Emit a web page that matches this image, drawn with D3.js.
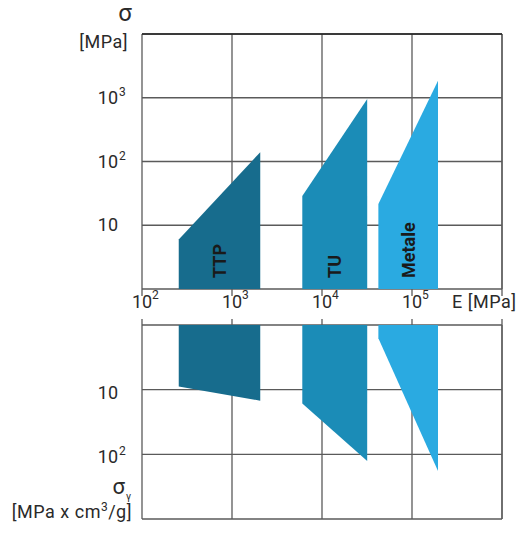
<!DOCTYPE html>
<html>
<head>
<meta charset="utf-8">
<script src="https://cdn.jsdelivr.net/npm/d3@7"></script>
<style>
  html, body { margin: 0; padding: 0; background: #fff; }
  svg { display: block; font-family: Roboto, "Noto Sans", sans-serif; }
</style>
</head>
<body>
<svg id="chart" width="520" height="533"></svg>
<script>
// ---- data ----
const materials = ["TTP", "TU", "Metale"];
const colors = ["#176c8d", "#1b8cb7", "#2aaae1"];
const eMin = [256, 6040, 42300];          // E [MPa], left edge
const eMax = [2060, 31800, 194500];       // E [MPa], right edge
const sigmaLeft = [6, 28.8, 21.6];        // σ at eMin [MPa]
const sigmaRight = [140, 960, 1840];      // σ at eMax [MPa]
const sigmaYLeft = [8.9, 16.4, 1.6];      // σγ at eMin
const sigmaYRight = [14.8, 127, 181];     // σγ at eMax
const xTickValues = [1e2, 1e3, 1e4, 1e5];
const xTickExp = ["2", "3", "4", "5"];
const xGridValues = [1e2, 1e3, 1e4, 1e5, 1e6];
const topTickValues = [10, 100, 1000];
const topTickExp = ["", "2", "3"];
const topGridValues = [1, 10, 100, 1000, 10000];
const botTickValues = [10, 100];
const botTickExp = ["", "2"];
const botGridValues = [1, 10, 100, 1000];

// ---- layout ----
const left = 142, right = 502;
const topY0 = 34, topY1 = 289;
const botY0 = 325, botY1 = 519;

const svg = d3.select("#chart");
const x = d3.scaleLog().domain([1e2, 1e6]).range([left, right]);
const yTop = d3.scaleLog().domain([1, 1e4]).range([topY1, topY0]);
const yBot = d3.scaleLog().domain([1, 1e3]).range([botY0, botY1]);

const gridColor = "#5a5a5a";
const darkColor = "#222";

// ---- gridlines ----
const grid = svg.append("g");
function drawGrid(y, yVals, y0, y1) {
  grid.selectAll(null).data(xGridValues).enter().append("line")
    .attr("x1", d => x(d)).attr("x2", d => x(d))
    .attr("y1", y0).attr("y2", y1)
    .attr("stroke", d => d === 1e6 ? darkColor : gridColor)
    .attr("stroke-width", 1.3);
  grid.selectAll(null).data(yVals).enter().append("line")
    .attr("x1", left).attr("x2", right)
    .attr("y1", d => y(d)).attr("y2", d => y(d))
    .attr("stroke", gridColor)
    .attr("stroke-width", 1.3);
}
drawGrid(yTop, topGridValues, topY0, topY1);
drawGrid(yBot, botGridValues, botY0, botY1);
grid.append("line").attr("x1", left).attr("x2", right)
  .attr("y1", topY0).attr("y2", topY0).attr("stroke", darkColor).attr("stroke-width", 1.5);

// axis ticks between panels
grid.selectAll(null).data(xGridValues).enter().append("line")
  .attr("x1", d => x(d)).attr("x2", d => x(d))
  .attr("y1", topY1).attr("y2", topY1 + 7)
  .attr("stroke", gridColor).attr("stroke-width", 1.3);
grid.selectAll(null).data(xGridValues).enter().append("line")
  .attr("x1", d => x(d)).attr("x2", d => x(d))
  .attr("y1", botY0 - 6).attr("y2", botY0)
  .attr("stroke", gridColor).attr("stroke-width", 1.3);

// ---- shapes ----
const line = d3.line();
const shapes = svg.append("g");
materials.forEach((m, i) => {
  const ptsTop = [
    [x(eMin[i]), yTop(1)],
    [x(eMin[i]), yTop(sigmaLeft[i])],
    [x(eMax[i]), yTop(sigmaRight[i])],
    [x(eMax[i]), yTop(1)]
  ];
  const ptsBot = [
    [x(eMin[i]), yBot(1)],
    [x(eMin[i]), yBot(sigmaYLeft[i])],
    [x(eMax[i]), yBot(sigmaYRight[i])],
    [x(eMax[i]), yBot(1)]
  ];
  shapes.append("path").attr("d", line(ptsTop) + "Z").attr("fill", colors[i]);
  shapes.append("path").attr("d", line(ptsBot) + "Z").attr("fill", colors[i]);
  const cx = (x(eMin[i]) + x(eMax[i])) / 2;
  shapes.append("text")
    .attr("transform", `translate(${cx},${topY1 - 11}) rotate(-90)`)
    .attr("dy", "0.36em")
    .attr("font-size", 18)
    .attr("font-weight", "bold")
    .attr("fill", "#1a1a1a")
    .text(m);
});

// ---- labels ----
const labels = svg.append("g").attr("fill", "#2a2a2a");
const fs = 18;
const ls = "0.5px";
// x tick labels
xTickValues.forEach((v, i) => {
  labels.append("text").attr("x", x(v)).attr("y", 308)
    .attr("text-anchor", "middle").attr("font-size", fs).text("10");
  labels.append("text").attr("x", x(v) + 10).attr("y", 299)
    .attr("font-size", 12).text(xTickExp[i]);
});
labels.append("text").attr("x", 452).attr("y", 308)
  .attr("font-size", fs).attr("letter-spacing", ls).text("E [MPa]");

// y labels
function yLabels(y, vals, exps, off) {
  vals.forEach((v, i) => {
    labels.append("text").attr("x", 118).attr("y", y(v) + off)
      .attr("text-anchor", "end").attr("font-size", fs).text("10");
    if (exps[i]) labels.append("text").attr("x", 119).attr("y", y(v) + off - 8)
      .attr("font-size", 12).text(exps[i]);
  });
}
yLabels(yTop, topTickValues, topTickExp, 6);
yLabels(yBot, botTickValues, botTickExp, 9);

// axis titles
labels.append("text").attr("x", 125).attr("y", 21).attr("text-anchor", "middle")
  .attr("font-size", 24).text("σ");
labels.append("text").attr("x", 128).attr("y", 48).attr("text-anchor", "end")
  .attr("font-size", fs).attr("letter-spacing", ls).text("[MPa]");
labels.append("text").attr("x", 125).attr("y", 494).attr("text-anchor", "end")
  .attr("font-size", 22).text("σ");
labels.append("text").attr("x", 126).attr("y", 500)
  .attr("font-size", 10).text("γ");
const t = labels.append("text").attr("x", 132).attr("y", 518).attr("text-anchor", "end")
  .attr("font-size", fs).attr("letter-spacing", ls);
t.append("tspan").text("[MPa x cm");
t.append("tspan").attr("dy", -7).attr("font-size", 12).text("3");
t.append("tspan").attr("dy", 7).text("/g]");
</script>
</body>
</html>
